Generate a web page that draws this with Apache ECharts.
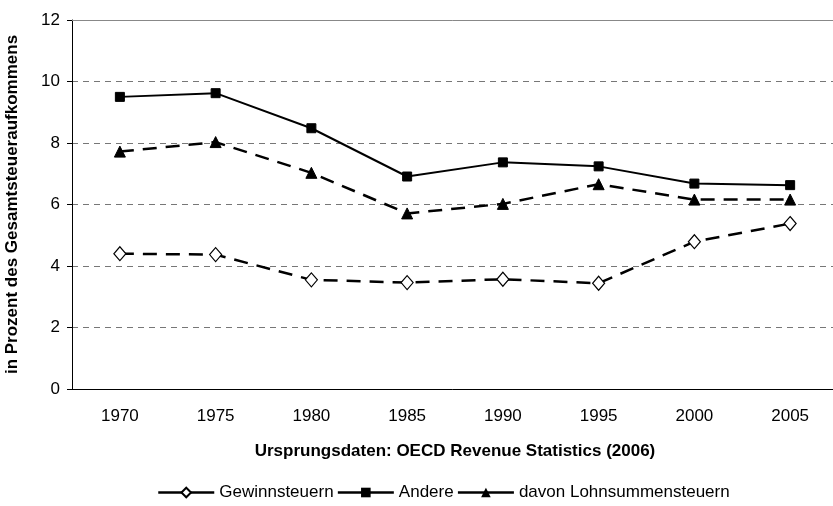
<!DOCTYPE html>
<html>
<head>
<meta charset="utf-8">
<script src="https://cdn.jsdelivr.net/npm/echarts@6/dist/echarts.min.js"></script>
<style>
  html, body { margin: 0; padding: 0; background: #fff; }
  #chart { width: 833px; height: 506px; }
</style>
</head>
<body>
<div id="chart"></div>
<script>
// Jahre und Anteile (in Prozent des Gesamtsteueraufkommens)
var years = ['1970', '1975', '1980', '1985', '1990', '1995', '2000', '2005'];
var gewinnsteuern = [4.40, 4.37, 3.55, 3.46, 3.57, 3.44, 4.79, 5.38];
var andere = [9.50, 9.62, 8.48, 6.91, 7.37, 7.24, 6.68, 6.63];
var lohnsummen = [7.72, 8.03, 7.03, 5.71, 6.02, 6.66, 6.16, 6.16];

var font = 'Liberation Sans, Arial, sans-serif';
var myChart = echarts.init(document.getElementById('chart'));

option = {
    animation: false,
    textStyle: { fontFamily: font },
    grid: { left: 72, right: -5, top: 20, bottom: 117, outerBoundsMode: 'none', containLabel: false },
    legend: {
        bottom: 0,
        left: 152,
        itemWidth: 56,
        itemHeight: 12,
        itemGap: 3,
        lineStyle: { type: 'solid', width: 2.5 },
        textStyle: { fontFamily: font, fontSize: 17, color: '#000' },
        data: ['Gewinnsteuern', 'Andere', 'davon Lohnsummensteuern']
    },
    xAxis: [{
        type: 'category',
        data: years,
        name: 'Ursprungsdaten: OECD Revenue Statistics (2006)',
        nameLocation: 'middle',
        nameGap: 54,
        nameTextStyle: { fontFamily: font, fontSize: 17, fontWeight: 'bold', color: '#000' },
        axisLine: { lineStyle: { color: '#000', width: 1 } },
        axisTick: { lineStyle: { color: '#000' }, length: 5 },
        axisLabel: { fontFamily: font, fontSize: 17, color: '#000', margin: 19 }
    }, {
        // obere Begrenzungslinie
        type: 'category',
        data: years,
        position: 'top',
        axisLine: { lineStyle: { color: '#888', width: 1 } },
        axisTick: { show: false },
        axisLabel: { show: false }
    }],
    yAxis: {
        type: 'value',
        min: 0,
        max: 12,
        interval: 2,
        name: 'in Prozent des Gesamtsteueraufkommens',
        nameLocation: 'middle',
        nameGap: 51,
        nameTextStyle: { fontFamily: font, fontSize: 17, fontWeight: 'bold', color: '#000' },
        axisLine: { show: true, lineStyle: { color: '#000', width: 1 } },
        axisTick: { show: true, lineStyle: { color: '#000' }, length: 5 },
        axisLabel: { fontFamily: font, fontSize: 17, color: '#000', margin: 12 },
        splitLine: { lineStyle: { color: '#777', type: [6, 5], width: 1 } }
    },
    series: [{
        name: 'Gewinnsteuern',
        type: 'line',
        data: gewinnsteuern,
        symbol: 'diamond',
        symbolSize: [12, 14],
        lineStyle: { color: '#000', width: 2.5, type: [14, 9] },
        itemStyle: { color: '#fff', borderColor: '#000', borderWidth: 1.2 }
    }, {
        name: 'Andere',
        type: 'line',
        data: andere,
        symbol: 'rect',
        symbolSize: 9,
        lineStyle: { color: '#000', width: 2 },
        itemStyle: { color: '#000', borderColor: '#000' }
    }, {
        name: 'davon Lohnsummensteuern',
        type: 'line',
        data: lohnsummen,
        symbol: 'triangle',
        symbolSize: 11,
        lineStyle: { color: '#000', width: 2.5, type: [14, 9] },
        itemStyle: { color: '#000', borderColor: '#000' }
    }]
};
myChart.setOption(option);
</script>
</body>
</html>
